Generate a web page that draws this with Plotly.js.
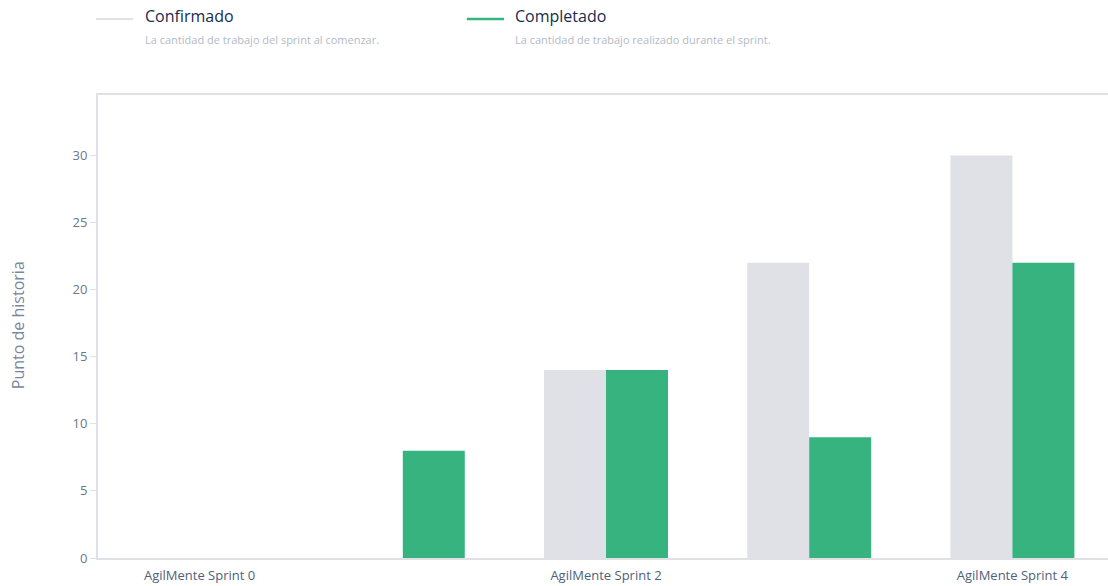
<!DOCTYPE html>
<html>
<head>
<meta charset="utf-8">
<script src="https://cdn.plot.ly/plotly-3.0.1.min.js"></script>
<style>
html,body{margin:0;padding:0;overflow:hidden;background:#fff;}
#chart{width:1116px;height:586px;}
</style>
</head>
<body>
<div id="chart"></div>
<script>
const categories = ["AgilMente Sprint 0","AgilMente Sprint 1","AgilMente Sprint 2","AgilMente Sprint 3","AgilMente Sprint 4"];
const confirmado = [0, 0, 14, 22, 30];
const completado = [0, 8, 14, 9, 22];
const labeledTicks = ["AgilMente Sprint 0","AgilMente Sprint 2","AgilMente Sprint 4"];
const seriesNames = ["Confirmado","Completado"];
const seriesDesc = ["La cantidad de trabajo del sprint al comenzar.","La cantidad de trabajo realizado durante el sprint."];
const yTitle = "Punto de historia";

const grey = "#dfe1e6", green = "#36b37e";
const FONT = "Open Sans, Noto Sans, sans-serif";

const traces = [
  {type:"bar", name:seriesNames[0], x:categories, y:confirmado, marker:{color:grey}, hoverinfo:"x+y"},
  {type:"bar", name:seriesNames[1], x:categories, y:completado, marker:{color:green}, hoverinfo:"x+y"}
];

const layout = {
  width:1116, height:586,
  margin:{l:98, r:2, t:95, b:28},
  paper_bgcolor:"#fff", plot_bgcolor:"#fff",
  barmode:"group", bargap:0.39, bargroupgap:0,
  showlegend:false,
  font:{family:FONT, size:12, color:"#5e6c84"},
  xaxis:{
    type:"category", categoryorder:"array", categoryarray:categories,
    tickvals:labeledTicks, ticktext:labeledTicks, ticks:"", ticklabelstandoff:4,
    showline:true, linecolor:"#dfe1e6", linewidth:2, mirror:true,
    showgrid:false, zeroline:false,
    tickfont:{family:FONT, size:13, color:"#505f79"}, automargin:false
  },
  xaxis2:{
    type:"linear", overlaying:"x", anchor:"y", side:"bottom",
    range:[-0.5,4.5], autorange:false,
    tickvals:[1,3], ticks:"outside", ticklen:6, tickcolor:"#dfe1e6", tickwidth:1,
    showticklabels:false, showgrid:false, zeroline:false, showline:false
  },
  yaxis:{
    range:[0,34.5], autorange:false,
    tickvals:[0,5,10,15,20,25,30], ticks:"outside", ticklen:6, tickcolor:"#dfe1e6",
    showline:true, linecolor:"#dfe1e6", linewidth:2, mirror:true,
    showgrid:false, zeroline:false,
    tickfont:{family:FONT, size:13, color:"#6b778c"}, automargin:false
  },
  shapes:[
    {type:"line", xref:"paper", yref:"paper", x0:-0.002, x1:0.0344, y0:1.164, y1:1.164, line:{color:grey, width:2}},
    {type:"line", xref:"paper", yref:"paper", x0:0.363, x1:0.3996, y0:1.164, y1:1.164, line:{color:green, width:2.5}}
  ],
  annotations:[
    {xref:"paper", yref:"paper", x:0.0443, y:1.1706, xanchor:"left", yanchor:"middle", showarrow:false,
     text:seriesNames[0], font:{family:FONT, size:16, color:"#172b4d"}},
    {xref:"paper", yref:"paper", x:0.0443, y:1.119, xanchor:"left", yanchor:"middle", showarrow:false,
     text:seriesDesc[0], font:{family:FONT, size:11, color:"#b3bac5"}},
    {xref:"paper", yref:"paper", x:0.4085, y:1.1706, xanchor:"left", yanchor:"middle", showarrow:false,
     text:seriesNames[1], font:{family:FONT, size:16, color:"#172b4d"}},
    {xref:"paper", yref:"paper", x:0.4085, y:1.119, xanchor:"left", yanchor:"middle", showarrow:false,
     text:seriesDesc[1], font:{family:FONT, size:11, color:"#b3bac5"}},
    {xref:"paper", yref:"paper", x:-0.0787, y:0.503, xanchor:"center", yanchor:"middle", showarrow:false,
     textangle:-90, text:yTitle, font:{family:FONT, size:16, color:"#7a869a"}}
  ]
};

Plotly.newPlot("chart", traces, layout, {displayModeBar:false, responsive:false});
</script>
</body>
</html>
